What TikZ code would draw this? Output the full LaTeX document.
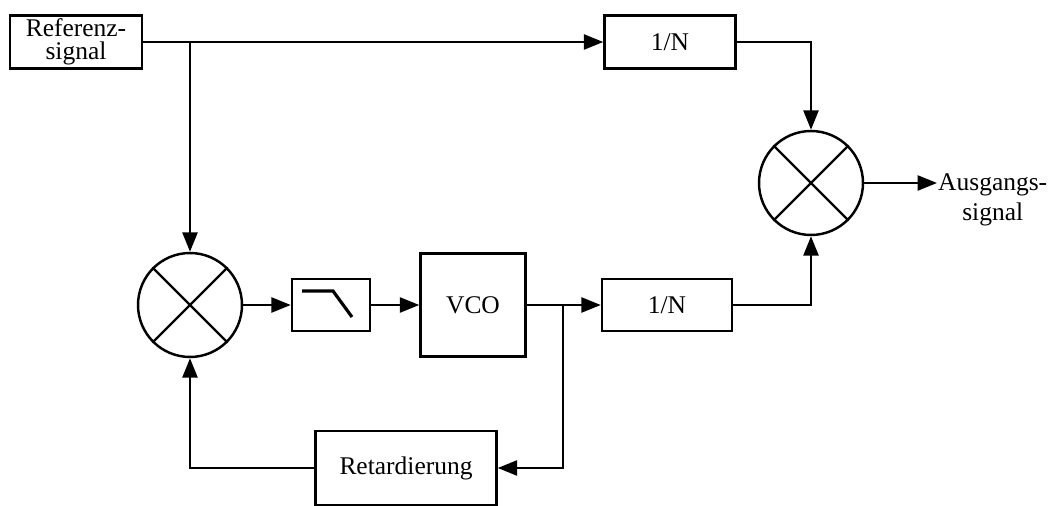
\documentclass[tikz,border=0pt]{standalone}
\usepackage{fontspec}
\setmainfont{Liberation Serif}
\usetikzlibrary{positioning, calc, arrows.meta}

\begin{document}
\begin{tikzpicture}[
    x=0.02cm, y=-0.02cm,
    line width=1.4pt,
    >={Triangle[length=11pt, width=8.5pt]},
    every node/.style={font=\fontsize{14.5}{17.5}\selectfont, inner sep=0pt},
    blk/.style={draw, rectangle},
    mix/.style={draw, circle, minimum size=2.08cm},
    lbl/.style={align=center}
  ]
  \useasboundingbox (0,0) rectangle (1049,506);

  \node[blk, lbl, font=\fontsize{14.5}{13}\selectfont, minimum width=2.64cm, minimum height=1.06cm] (ref) at (76,42) {Referenz-\\signal};
  \node[blk, minimum width=2.62cm, minimum height=1.06cm] (div1) at (670,42) {1/N};
  \node[mix] (mix2) at (811,183) {};
  \node[lbl, anchor=north west] (ausg) at (937,172) {Ausgangs-\\signal};

  \node[mix] (mix1) at (190,305) {};
  \node[blk, minimum width=1.56cm, minimum height=1.04cm] (lp) at (331,305) {};
  \node[blk, minimum width=2.1cm, minimum height=2.06cm] (vco) at (473,305) {VCO};
  \node[blk, minimum width=2.6cm, minimum height=1.04cm] (div2) at (667,305) {1/N};
  \node[blk, minimum width=3.62cm, minimum height=1.48cm] (ret) at (406,468) {Retardierung};
  \coordinate (br) at (563,305);

  % mixer crosses and low-pass symbol
  \foreach \m in {mix1, mix2}
    \draw (\m.north west) -- (\m.south east) (\m.north east) -- (\m.south west);
  \draw[line width=1.8pt] ($(lp)+(-29,-14)$) -- ($(lp)+(2,-14)$) -- ($(lp)+(21,12)$);

  \draw[->] (ref.east) -- (div1.west);
  \draw[->] (mix1.north |- ref.east) -- (mix1.north);
  \draw[->] (div1.east) -| (mix2.north);
  \draw[->] (mix2.east) -- (mix2 -| ausg.west);

  \draw[->] (mix1.east) -- (lp.west);
  \draw[->] (lp.east) -- (vco.west);
  \draw (vco.east) -- (br);
  \draw[->] (br) -- (div2.west);
  \draw[->] (div2.east) -| (mix2.south);
  \draw[->] (br) |- (ret.east);
  \draw[->] (ret.west) -| (mix1.south);
\end{tikzpicture}
\end{document}
